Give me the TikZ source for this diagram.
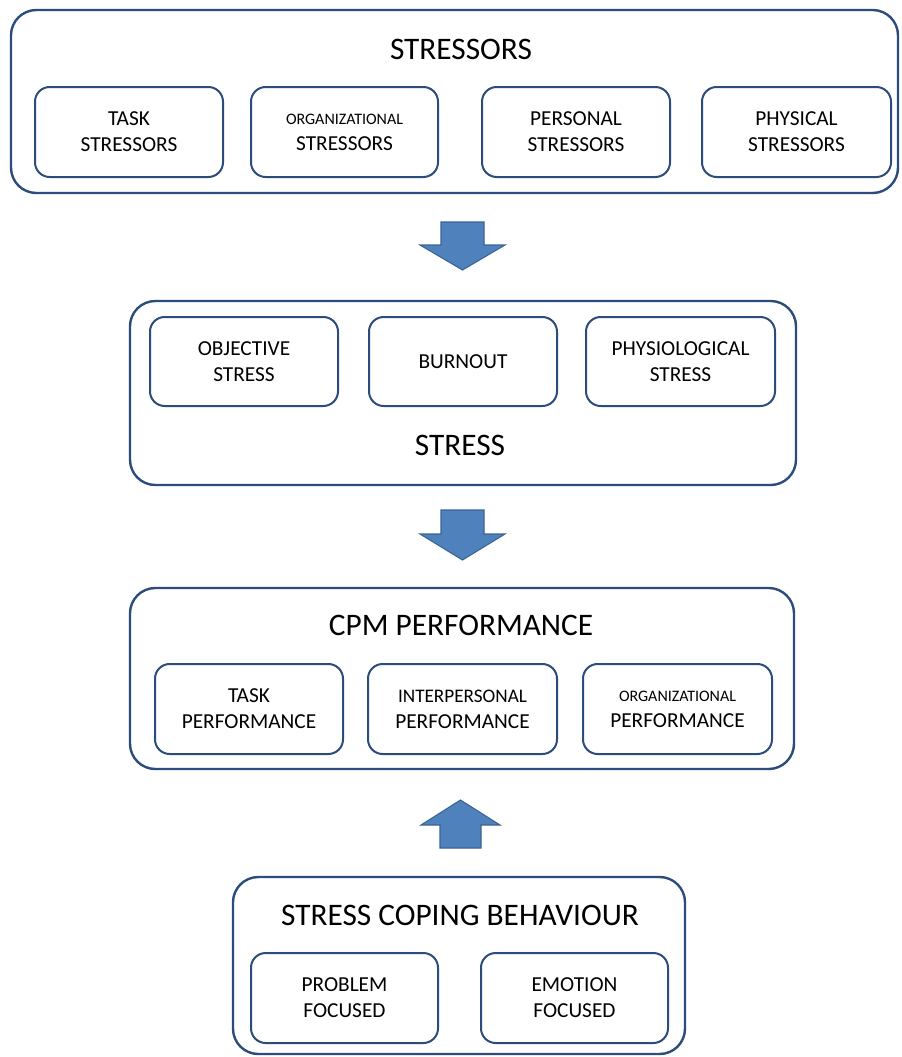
\documentclass[tikz,border=0pt]{standalone}
\usepackage{fontspec}
\setmainfont{Carlito}
\definecolor{boxblue}{RGB}{44,77,124}
\definecolor{arrowblue}{RGB}{79,129,189}
\definecolor{arrowedge}{RGB}{58,100,147}
\newcommand\bx[7]{\node[#6, minimum width={(#4-#2)*0.75pt}, minimum height={(#5-#3)*0.75pt}] (#1) at ({(#2+#4)/2},{(#3+#5)/2}) {#7};}
\begin{document}
\begin{tikzpicture}[x=0.75pt,y=-0.75pt,
  outerbox/.style={draw=boxblue, line width=1.8pt, rounded corners=19pt, fill=white, inner sep=0pt},
  subbox/.style={draw=boxblue, line width=1.5pt, rounded corners=11pt, align=center, inner sep=0pt,
    font=\fontsize{16}{19.5}\selectfont},
  title/.style={font=\fontsize{23.5}{28}\selectfont, inner sep=0pt},
  small/.style={font=\fontsize{12}{14}\selectfont},
  barrow/.style={fill=arrowblue, draw=arrowedge, line width=0.8pt, line join=miter}]
\useasboundingbox (0,0) rectangle (901,1057);

% outer boxes
\bx{o1}{11}{10}{898}{193}{outerbox}{}
\bx{o2}{130}{301}{796}{485}{outerbox}{}
\bx{o3}{130}{588}{794}{769}{outerbox}{}
\bx{o4}{233}{877}{685}{1054}{outerbox}{}

% titles
\node[title] (t1) at (461,49) {STRESSORS};
\node[title] (t2) at (460,445) {STRESS};
\node[title] (t3) at (461,625) {CPM PERFORMANCE};
\node[title] (t4) at (460,915) {STRESS COPING BEHAVIOUR};

% stressors
\bx{s1}{35}{87}{223}{177}{subbox}{TASK\\STRESSORS}
\bx{s2}{251}{87}{438}{177}{subbox}{{\fontsize{12}{14}\selectfont ORGANIZATIONAL}\\STRESSORS}
\bx{s3}{482}{87}{670}{177}{subbox}{PERSONAL\\STRESSORS}
\bx{s4}{702}{87}{891}{177}{subbox}{PHYSICAL\\STRESSORS}

% stress
\bx{b1}{150}{317}{338}{406}{subbox}{OBJECTIVE\\STRESS}
\bx{b2}{369}{317}{557}{406}{subbox}{BURNOUT}
\bx{b3}{586}{317}{775}{406}{subbox}{PHYSIOLOGICAL\\STRESS}

% performance
\bx{p1}{155}{664}{343}{754}{subbox}{TASK\\PERFORMANCE}
\bx{p2}{368}{664}{557}{754}{subbox}{{\fontsize{14.4}{16}\selectfont INTERPERSONAL}\\PERFORMANCE}
\bx{p3}{583}{664}{772}{754}{subbox}{{\fontsize{12}{14}\selectfont ORGANIZATIONAL}\\PERFORMANCE}

% coping
\bx{c1}{251}{953}{438}{1043}{subbox}{PROBLEM\\FOCUSED}
\bx{c2}{481}{953}{668}{1043}{subbox}{EMOTION\\FOCUSED}

% block arrows
\draw[barrow] (441,222) -- (484,222) -- (484,245) -- (505,245) -- (462.5,270) -- (420,245) -- (441,245) -- cycle;
\draw[barrow] (441,510) -- (484,510) -- (484,534) -- (505,534) -- (462.5,560) -- (420,534) -- (441,534) -- cycle;
\draw[barrow] (440,848) -- (481,848) -- (481,825) -- (500,825) -- (460.5,800) -- (421,825) -- (440,825) -- cycle;
\end{tikzpicture}
\end{document}
